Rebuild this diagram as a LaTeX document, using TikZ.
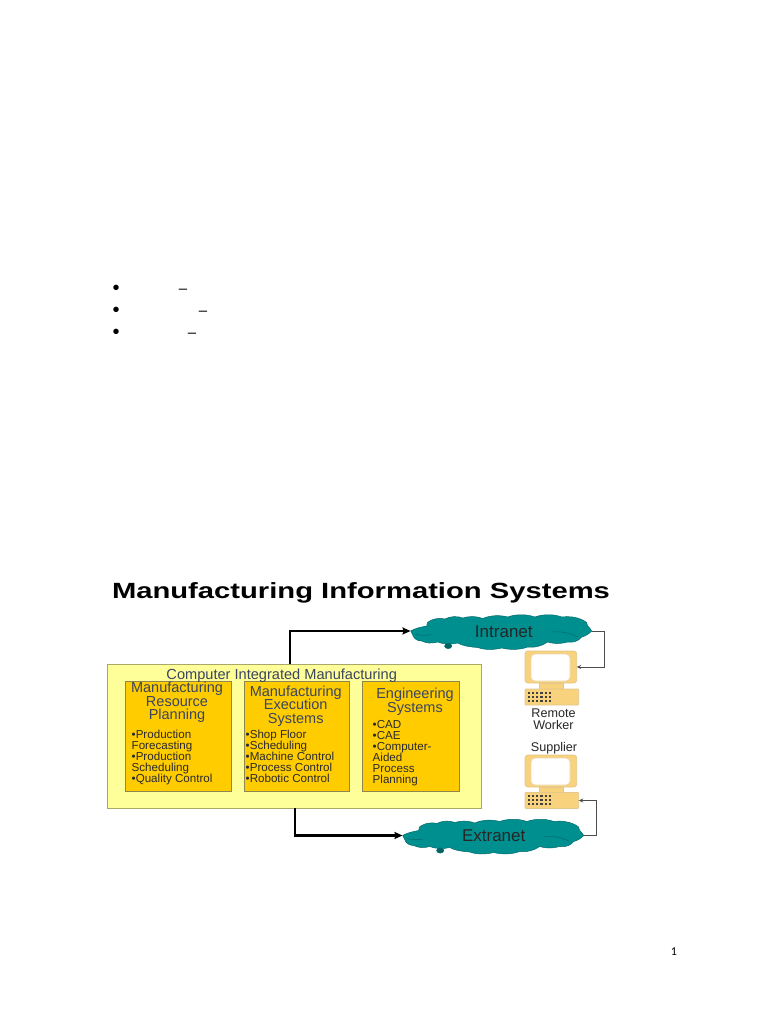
\documentclass[tikz,border=0pt]{standalone}
\usepackage{fontspec}
\setmainfont{Liberation Sans}
\newfontfamily\pagefont{Carlito}
\usetikzlibrary{arrows.meta}
\definecolor{headc}{HTML}{3A4560}
\definecolor{bodyc}{HTML}{2A2A30}
\definecolor{outerfill}{HTML}{FFFF99}
\definecolor{outeredge}{HTML}{A8A868}
\definecolor{innerfill}{HTML}{FFCC00}
\definecolor{inneredge}{HTML}{8E8650}
\definecolor{cloudfill}{HTML}{008F8F}
\definecolor{cloudedge}{HTML}{006A6A}
\definecolor{pcfill}{HTML}{F8D27C}
\definecolor{pcedge}{HTML}{E2C88C}
\tikzset{
  every node/.style={inner sep=0pt,outer sep=0pt},
  outerbox/.style={draw=outeredge,line width=.9pt,fill=outerfill,anchor=north west},
  innerbox/.style={draw=inneredge,line width=.9pt,fill=innerfill,anchor=north west},
  headtext/.style={text=headc,align=center,font=\fontsize{14.5}{13.6}\selectfont},
  bodytext/.style={text=bodyc,align=left,anchor=north west,font=\fontsize{11.6}{10.9}\selectfont},
  labeltext/.style={text=black!85,align=center,font=\fontsize{12.6}{12.4}\selectfont},
  cloudlabel/.style={text=black!85,minimum width=181pt,minimum height=34pt,font=\fontsize{17}{17}\selectfont},
  thickarrow/.style={line width=2.6pt,-{Stealth[length=8pt,width=7pt,inset=1pt]}},
  thinarrow/.style={draw=black!70,line width=.8pt,-{Stealth[length=4.5pt,width=4pt]}},
  pcpart/.style={draw=pcedge,line width=.8pt,fill=pcfill,anchor=north west},
  pcscreen/.style={draw=pcedge!70!white,line width=.8pt,fill=white,rounded corners=4pt,anchor=north west},
  pagetext/.style={font=\pagefont\fontsize{12}{12}\selectfont,text=black},
  mark glyph/.style={font=\fontsize{20}{20}\selectfont,anchor=base},
  dash glyph/.style={font=\fontsize{15}{15}\selectfont,anchor=base},
}
\newcommand{\cloudblob}[2]{%
  \begin{scope}[shift={(#1,#2)}]
    \draw[draw=cloudedge,line width=.5pt,fill=cloudfill]
      (0,0) .. controls (5,-3) and (11,-4) .. (16,-5)
      .. controls (16,-8) and (17,-9.5) .. (19,-10)
      .. controls (24,-13) and (30,-13) .. (34,-12)
      .. controls (40,-15) and (47,-15) .. (52,-13)
      .. controls (58,-15) and (66,-15) .. (72,-12.5)
      .. controls (80,-16) and (90,-16) .. (97,-14)
      .. controls (105,-17) and (116,-17) .. (124,-14)
      .. controls (133,-17) and (143,-17) .. (151,-14)
      .. controls (158,-15) and (166,-14) .. (172,-11)
      .. controls (175,-10) and (177,-8) .. (177,-5)
      .. controls (178,-4) and (180,-2) .. (181,0)
      .. controls (178,3) and (175,5) .. (171,6)
      .. controls (168,10) and (162,12) .. (157,11)
      .. controls (150,13) and (143,13) .. (137,11)
      .. controls (131,15) and (124,17) .. (117,16)
      .. controls (109,19) and (99,19) .. (91,17)
      .. controls (83,19) and (74,19) .. (67,16.5)
      .. controls (60,16) and (52,15) .. (47,12)
      .. controls (40,14) and (32,13) .. (27,11)
      .. controls (21,13) and (15,12) .. (11,10)
      .. controls (7,10) and (4,8) .. (3,6)
      .. controls (2,4) and (1,2) .. (0,0) -- cycle;
    \draw[cloudedge,line width=.5pt] (4,3) .. controls (9,4.5) and (15,4.5) .. (20,3.5);
    \draw[cloudedge,line width=.5pt] (142,1) .. controls (150,0) and (160,2) .. (167,6);
    \draw[cloudedge,line width=.5pt,fill=cloudfill!70!black] (37.5,15) ellipse (3.6pt and 2.6pt);
  \end{scope}}
\newcommand{\pcdots}[2]{%
  \foreach \i in {0,...,5}{\foreach \j in {0,1,2}{
    \fill[black!75] ({#1+\i*4.2},{#2+\j*4}) rectangle ++(2.2,2.2);}}}
\begin{document}
\begin{tikzpicture}[x=1pt,y=-1pt]
\useasboundingbox (0,0) rectangle (768,1024);
\fill[white] (0,0) rectangle (768,1024);

% bullets and dashes
\node[mark glyph] (b1) at (116,294.5) {•};
\node[mark glyph] (b2) at (116,316.5) {•};
\node[mark glyph] (b3) at (116,338.5) {•};
\node[dash glyph] (d1) at (183,293) {–};
\node[dash glyph] (d2) at (203,315) {–};
\node[dash glyph] (d3) at (192,337) {–};

% title
\node[anchor=base west,font=\bfseries\fontsize{22}{22}\selectfont] (title) at (112,598.5)
  {\scalebox{1.327}[1]{Manufacturing Information Systems}};

% clouds
\cloudblob{410.7}{631}
\cloudblob{402.7}{835.5}
\node[cloudlabel] (intranet) at (501,631) {};
\node[text=black!85,font=\fontsize{17}{17}\selectfont] (intranetlabel) at (503.8,631.5) {Intranet};
\node[cloudlabel] (extranet) at (493,835.5) {};
\node[text=black!85,font=\fontsize{17}{17}\selectfont] (extranetlabel) at (493.7,836) {Extranet};

% main boxes
\node[outerbox,minimum width=374pt,minimum height=144pt] (cim) at (107.5,664) {};
\node[innerbox,minimum width=105.3pt,minimum height=110.7pt] (mrp) at (125.7,681) {};
\node[innerbox,minimum width=105.3pt,minimum height=110.7pt] (mes) at (244.3,681) {};
\node[innerbox,minimum width=97pt,minimum height=110.7pt] (eng) at (362.7,681) {};
\node[text=headc,font=\fontsize{14.6}{14.6}\selectfont] (cimlabel) at (281.7,676) {Computer Integrated Manufacturing};

\node[headtext,anchor=center] (mrphead) at (177,702.5) {Manufacturing\\Resource\\Planning};
\node[headtext,anchor=center] (meshead) at (295.7,706) {Manufacturing\\Execution\\Systems};
\node[headtext,anchor=center] (enghead) at (415,701.5) {Engineering\\Systems};

\node[bodytext] (mrpbody) at (131.7,730.5) {•Production\\Forecasting\\•Production\\Scheduling\\•Quality Control};
\node[bodytext] (mesbody) at (245.7,730.5) {•Shop Floor\\•Scheduling\\•Machine Control\\•Process Control\\•Robotic Control};
\node[bodytext] (engbody) at (372.7,720.5) {•CAD\\•CAE\\•Computer-\\Aided\\Process\\Planning};

% computers
\node[pcpart,rounded corners=3pt,minimum width=51.7pt,minimum height=32pt] (mon1) at (525,651) {};
\node[pcscreen,minimum width=39pt,minimum height=27pt] (scr1) at (531,654) {};
\node[pcpart,minimum width=24pt,minimum height=6pt] (neck1) at (539.7,683) {};
\node[pcpart,rounded corners=1pt,minimum width=53.7pt,minimum height=16pt] (kbd1) at (525,689) {};
\pcdots{527.7}{691.7}
\node[labeltext] (remote) at (553.5,719) {Remote\\Worker};

\node[labeltext] (supplier) at (554,748) {Supplier};
\node[pcpart,rounded corners=3pt,minimum width=51.7pt,minimum height=32pt] (mon2) at (525,755) {};
\node[pcscreen,minimum width=39pt,minimum height=27pt] (scr2) at (531,758) {};
\node[pcpart,minimum width=24pt,minimum height=5pt] (neck2) at (539.7,787) {};
\node[pcpart,rounded corners=1pt,minimum width=53.7pt,minimum height=16pt] (kbd2) at (525,792.5) {};
\pcdots{527.7}{795.2}

% connectors
\draw[thickarrow] ([xshift=-4.5pt]cim.north) |- (intranet.west);
\draw[thickarrow] ([xshift=.5pt]cim.south) |- (extranet.west);
\draw[thinarrow] (intranet.east) -- ++(12.5,0) |- (mon1.east);
\draw[thinarrow] (extranet.east) -- ++(13,0) |- (kbd2.east);

% page number
\node[pagetext] (pagenum) at (674,952) {1};
\end{tikzpicture}
\end{document}
